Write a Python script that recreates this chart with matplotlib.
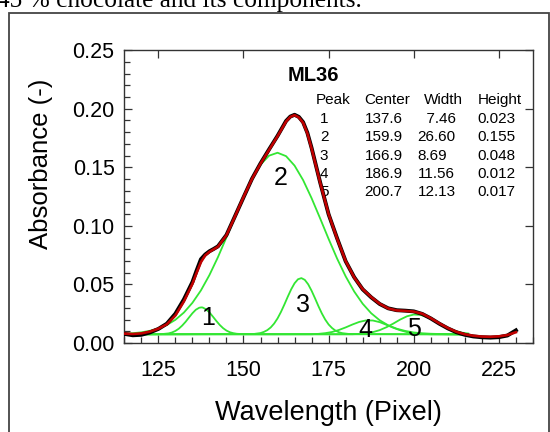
import matplotlib.pyplot as plt
from matplotlib.patches import Rectangle

plt.rcParams['font.family'] = ['Liberation Sans', 'DejaVu Sans']

# measured spectrum (black) and fitted/smoothed curve (red)
wl = [115, 117.5, 120, 122.5, 125, 127.5, 130, 132.5, 135, 136.25, 137.5, 138.75,
      140, 141.25, 142.5, 145, 147.5, 150, 152.5, 155, 157.5, 160, 162.5, 163.75,
      165, 166.25, 167.5, 168.75, 170, 172.5, 175, 177.5, 180, 182.5, 185, 187.5,
      190, 192.5, 195, 197.5, 200, 202.5, 205, 207.5, 210, 212.5,
      215, 217.5, 220, 222.5, 225, 227.5, 230]
measured = [0.0078, 0.0066, 0.0070, 0.0090, 0.0120, 0.0165, 0.0250, 0.0372, 0.0520, 0.0620, 0.0715, 0.0755,
            0.0783, 0.0803, 0.0825, 0.0922, 0.1082, 0.1243, 0.1402, 0.1533, 0.1652, 0.1768, 0.1895, 0.1933,
            0.1948, 0.1930, 0.1885, 0.1795, 0.1665, 0.1372, 0.1098, 0.0893, 0.0698, 0.0562, 0.0458, 0.0390,
            0.0333, 0.0296, 0.0280, 0.0276, 0.0270, 0.0248, 0.0210, 0.0165, 0.0125, 0.0092,
            0.0070, 0.0056, 0.0049, 0.0046, 0.0050, 0.0064, 0.0108]
fitted = [0.0080, 0.0077, 0.0082, 0.0097, 0.0122, 0.0160, 0.0235, 0.0355, 0.0505, 0.0600, 0.0690, 0.0748,
          0.0778, 0.0800, 0.0822, 0.0920, 0.1080, 0.1245, 0.1400, 0.1530, 0.1648, 0.1765, 0.1890, 0.1930,
          0.1945, 0.1925, 0.1880, 0.1790, 0.1660, 0.1370, 0.1100, 0.0890, 0.0700, 0.0560, 0.0460, 0.0392,
          0.0335, 0.0295, 0.0278, 0.0274, 0.0268, 0.0250, 0.0212, 0.0168, 0.0128, 0.0096,
          0.0075, 0.0062, 0.0055, 0.0053, 0.0057, 0.0068, 0.0092]

# peak components (green)
p1_x = [115, 126, 128, 129, 130, 131, 132, 133, 134, 135, 136, 137, 137.6, 138, 139,
        140, 141, 142, 143, 144, 145, 146, 147, 148, 150, 215]
p1_y = [0.0074, 0.0076, 0.0082, 0.0090, 0.0103, 0.0122, 0.0149, 0.0181, 0.0218, 0.0254,
        0.0284, 0.0301, 0.0304, 0.0303, 0.0288, 0.0261, 0.0226, 0.0189, 0.0155, 0.0127,
        0.0106, 0.0092, 0.0084, 0.0079, 0.0075, 0.0074]
p2_x = [115, 117.5, 120, 122.5, 125, 127.5, 130, 132.5, 135, 137.5,
        140, 142.5, 145, 147.5, 150, 152.5, 155, 157.5, 160, 162.5,
        165, 167.5, 170, 172.5, 175, 177.5, 180, 182.5, 185, 187.5,
        190, 192.5, 195, 197.5, 200, 202.5, 205, 210, 215]
p2_y = [0.0079, 0.0084, 0.0091, 0.0104, 0.0124, 0.0154, 0.0198, 0.0260, 0.0343, 0.0449,
        0.0580, 0.0733, 0.0902, 0.1078, 0.1249, 0.1402, 0.1522, 0.1599, 0.1624, 0.1595,
        0.1514, 0.1391, 0.1236, 0.1064, 0.0888, 0.0720, 0.0569, 0.0440, 0.0335, 0.0254,
        0.0194, 0.0151, 0.0122, 0.0103, 0.0090, 0.0083, 0.0079, 0.0075, 0.0074]
p3_x = [115, 153, 155, 156, 157, 158, 159, 160, 161, 162, 163, 164, 165, 166, 167,
        168, 169, 170, 171, 172, 173, 174, 175, 176, 177, 178, 179, 181, 215]
p3_y = [0.0074, 0.0077, 0.0085, 0.0095, 0.0110, 0.0133, 0.0166, 0.0210, 0.0265, 0.0328,
        0.0395, 0.0458, 0.0510, 0.0544, 0.0554, 0.0539, 0.0501, 0.0446, 0.0382, 0.0315,
        0.0253, 0.0200, 0.0158, 0.0128, 0.0106, 0.0092, 0.0084, 0.0077, 0.0074]
p4_x = [115, 170, 172, 174, 176, 178, 180, 182, 184, 186, 188, 190, 192, 194, 196,
        198, 200, 202, 205, 215]
p4_y = [0.0074, 0.0075, 0.0078, 0.0084, 0.0094, 0.0111, 0.0133, 0.0158, 0.0180, 0.0193,
        0.0192, 0.0178, 0.0155, 0.0130, 0.0109, 0.0093, 0.0083, 0.0078, 0.0075, 0.0074]
p5_x = [115, 182, 184, 186, 188, 190, 192, 194, 196, 198, 200, 202, 204, 206, 208,
        210, 212, 214, 216]
p5_y = [0.0074, 0.0075, 0.0078, 0.0083, 0.0093, 0.0110, 0.0135, 0.0166, 0.0200, 0.0228,
        0.0243, 0.0240, 0.0221, 0.0190, 0.0156, 0.0127, 0.0104, 0.0089, 0.0081]

# fit table
table_header = ['Peak', 'Center', 'Width', 'Height']
peak_ids = ['1', '2', '3', '4', '5']
centers = ['137.6', '159.9', '166.9', '186.9', '200.7']
widths = ['  7.46', '26.60', '8.69', '11.56', '12.13']
heights = ['0.023', '0.155', '0.048', '0.012', '0.017']

peak_label_x = [139.7, 160.8, 167.6, 185.8, 200.0]
peak_label_y = [0.021, 0.1405, 0.0324, 0.011, 0.0117]

fig = plt.figure(figsize=(5.5, 4.32), dpi=100)
ax = fig.add_axes([0.226, 0.206, 0.743, 0.678])

green = '#33e633'
for px, py in [(p1_x, p1_y), (p2_x, p2_y), (p3_x, p3_y), (p4_x, p4_y), (p5_x, p5_y)]:
    ax.plot(px, py, color=green, lw=1.3, zorder=2)
ax.plot(wl, measured, color='black', lw=2.8, zorder=3)
ax.plot(wl, fitted, color='#c00000', lw=1.9, zorder=4)

for i, lab in enumerate(peak_ids):
    ax.text(peak_label_x[i], peak_label_y[i], lab, fontsize=18, ha='center', va='center', zorder=5)

# table text
ax.text(162.9, 0.2286, 'ML36', fontsize=14.5, fontweight='bold', va='center')
ty = [0.1908, 0.1755, 0.1598, 0.1442, 0.1285]
fs = 11
ax.text(171.1, 0.2073, table_header[0], fontsize=fs, va='center')
ax.text(185.4, 0.2073, table_header[1], fontsize=fs, va='center')
ax.text(202.9, 0.2073, table_header[2], fontsize=fs, va='center')
ax.text(218.7, 0.2073, table_header[3], fontsize=fs, va='center')
for i in range(5):
    ax.text(173.7, ty[i], peak_ids[i], fontsize=fs, va='center', ha='center')
    ax.text(185.5, ty[i], centers[i], fontsize=fs, va='center')
    ax.text(201.1, ty[i], widths[i], fontsize=fs, va='center')
    ax.text(218.7, ty[i], heights[i], fontsize=fs, va='center')

ax.set_xlim(115, 235)
ax.set_ylim(0, 0.25)
ax.set_xticks([125, 150, 175, 200, 225])
ax.set_xticks(range(115, 236, 5), minor=True)
ax.set_yticks([0.00, 0.05, 0.10, 0.15, 0.20, 0.25])
ax.set_yticks([i / 100 for i in range(26)], minor=True)
ax.set_yticklabels(['0.00', '0.05', '0.10', '0.15', '0.20', '0.25'])

ax.tick_params(which='both', direction='in', color='#333333', width=0.9, labelsize=15.5)
ax.tick_params(which='major', length=6, top=True, right=True)
ax.tick_params(which='minor', length=4, top=False, right=False)
ax.tick_params(axis='x', pad=12)
ax.tick_params(axis='y', pad=7)
for s in ax.spines.values():
    s.set_color('#333333')
    s.set_linewidth(1.0)

ax.set_xlabel('Wavelength (Pixel)', fontsize=19.5, labelpad=14)
ax.set_ylabel('Absorbance (-)', fontsize=18.5)
ax.yaxis.set_label_coords(-0.174, 0.611)

# caption cut off at the top of the picture and the frame around the figure
fig.text(-0.006, 1 - 7 / 432, '45 % chocolate and its components.', fontsize=18.3,
         family='Liberation Serif', va='baseline')
fig.patches.append(Rectangle((9 / 550, -0.05), 540 / 550, 1.05 - 13 / 432,
                             transform=fig.transFigure, fill=False,
                             edgecolor='#444444', lw=1.3))

fig.savefig('out.png', dpi=100)
